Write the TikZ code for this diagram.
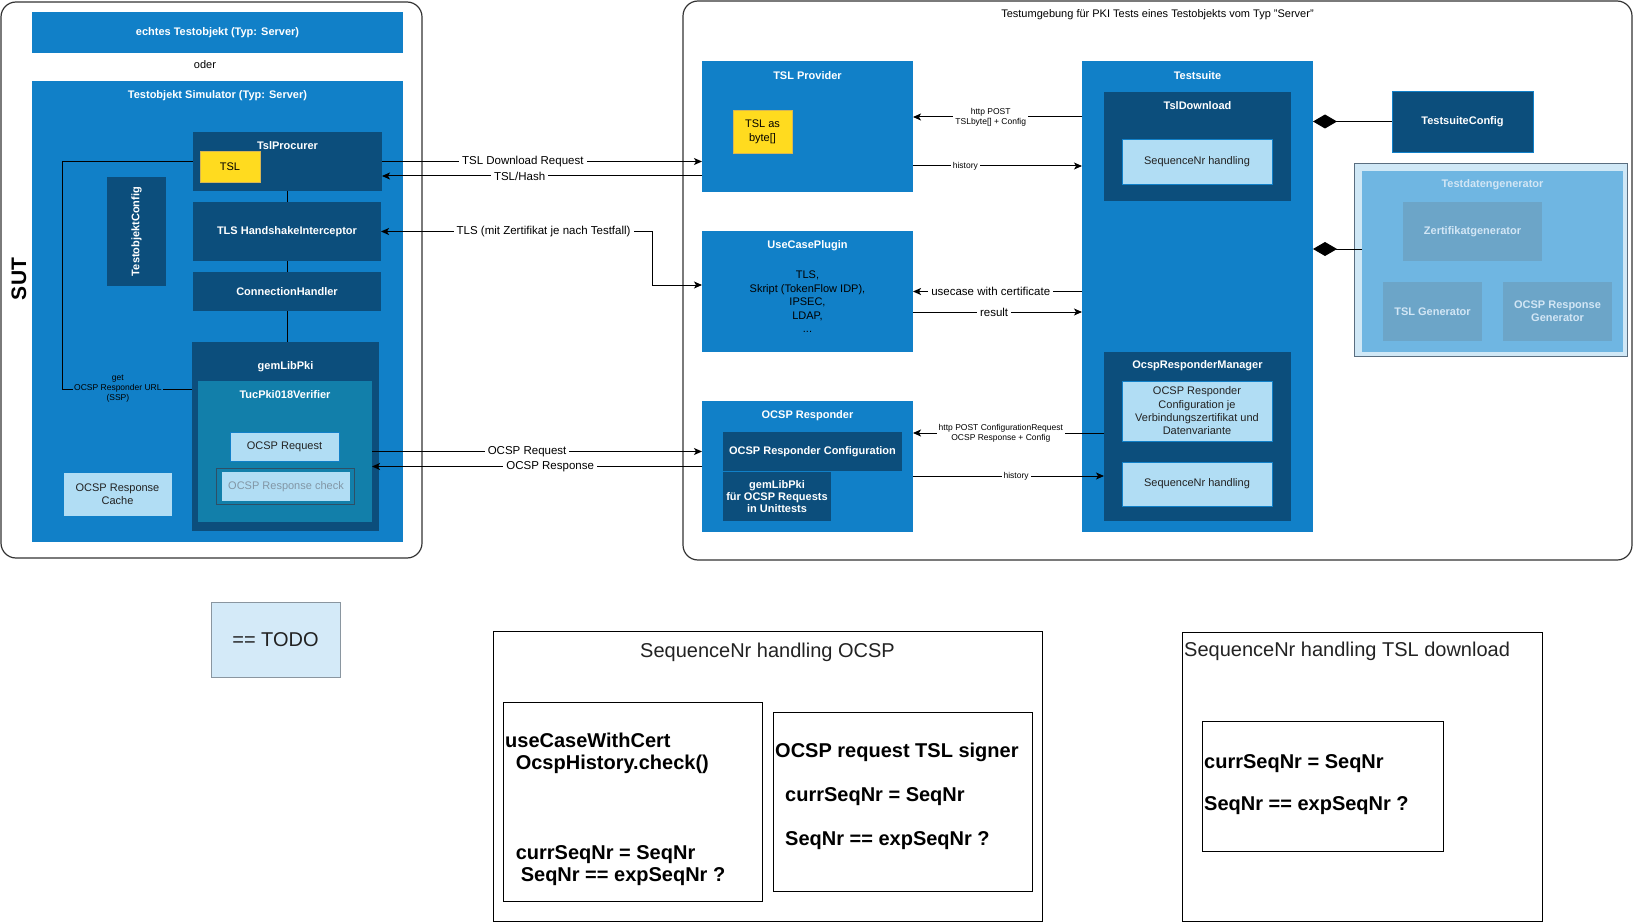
\documentclass[tikz,border=0pt]{standalone}
\usepackage{fontspec}
\setmainfont{Liberation Sans}
\usepackage{tikz}
\usetikzlibrary{arrows.meta}

\definecolor{cBlue}{HTML}{1180C8}
\definecolor{cDark}{HTML}{0C4E7C}
\definecolor{cTeal}{HTML}{127FAA}
\definecolor{cLight}{HTML}{B1DDF4}
\definecolor{cYellow}{HTML}{FFDB1F}
\definecolor{cYellowEdge}{HTML}{D6B656}
\definecolor{cGenOuter}{HTML}{D0E8F6}
\definecolor{cGenEdge}{HTML}{5A6E80}
\definecolor{cGenInner}{HTML}{6FB6E2}
\definecolor{cGenSub}{HTML}{6CA5C8}
\definecolor{cGenText}{HTML}{D2E6F5}
\definecolor{cTodo}{HTML}{D4EAF8}
\definecolor{cTodoEdge}{HTML}{8A96A0}
\definecolor{cFrame}{HTML}{333333}
\definecolor{cText}{HTML}{222222}
\definecolor{cGreyText}{HTML}{8296A5}
\definecolor{cCheckEdge}{HTML}{2E4F66}

\begin{document}
\begin{tikzpicture}[x=1pt,y=-1pt,
  box/.style={rectangle,inner sep=0pt,outer sep=0pt,anchor=north west,align=center},
  bluebox/.style={box,fill=cBlue,text=white,font=\fontsize{11}{13}\selectfont\bfseries},
  darkbox/.style={box,fill=cDark,text=white,font=\fontsize{11}{13}\selectfont\bfseries},
  tealbox/.style={box,fill=cTeal},
  lightbox/.style={box,fill=cLight,draw=cBlue,line width=0.8pt,text=cText,font=\fontsize{11}{13}\selectfont},
  yellowbox/.style={box,fill=cYellow,draw=cYellowEdge,line width=0.8pt,font=\fontsize{11}{14}\selectfont},
  genbox/.style={box,fill=cGenSub,text=cGenText,font=\fontsize{11}{13}\selectfont\bfseries},
  container/.style={box,draw=cFrame,line width=1.2pt,rounded corners=15pt},
  notebox/.style={box,draw=black,line width=1pt},
  boxtitle/.style={inner sep=0pt,text=white,font=\fontsize{11}{13}\selectfont\bfseries},
  lbl/.style={fill=white,inner xsep=3pt,inner ysep=1pt,font=\fontsize{11.5}{13}\selectfont},
  smalllbl/.style={fill=white,inner xsep=2pt,inner ysep=1pt,align=center,font=\fontsize{8.5}{10}\selectfont},
  codetext/.style={anchor=north west,inner sep=0pt,align=left,font=\fontsize{20}{22.3}\selectfont\bfseries},
  bigtext/.style={inner sep=0pt,text=cText,font=\fontsize{20}{24}\selectfont},
  wire/.style={draw=black,line width=1pt},
  flow/.style={wire,-{Stealth[length=8pt,width=7pt,inset=2pt]}},
  flowboth/.style={wire,{Stealth[length=8pt,width=7pt,inset=2pt]}-{Stealth[length=8pt,width=7pt,inset=2pt]}},
  agg/.style={wire,-{Diamond[length=24pt,width=14pt]}}
]

\useasboundingbox (0,0) rectangle (1634,923);

\node[container,minimum width=421pt,minimum height=556pt] (sut) at (1,2) {};
\node[container,minimum width=949pt,minimum height=559pt] (env) at (683,1) {};
\node[rotate=90,inner sep=0pt,font=\fontsize{21}{24}\selectfont\bfseries] (sutT) at (19,279) {SUT};
\node[inner sep=0pt,font=\fontsize{11}{13}\selectfont] (envT) at ([yshift=-14pt]env.north) {Testumgebung für PKI Tests eines Testobjekts vom Typ "Server"};

\node[bluebox,minimum width=371pt,minimum height=41pt] (real) at (32,12) {echtes Testobjekt (Typ: Server)};
\node[inner sep=0pt,font=\fontsize{11}{13}\selectfont] (oder) at (205,65) {oder};
\node[bluebox,minimum width=371pt,minimum height=461pt] (sim) at (32,81) {};
\node[boxtitle] (simT) at ([yshift=-14.5pt]sim.north) {Testobjekt Simulator (Typ: Server)};

\node[darkbox,minimum width=189pt,minimum height=59pt] (proc) at (193,132) {};
\node[boxtitle] (procT) at ([yshift=-13.5pt]proc.north) {TslProcurer};
\node[yellowbox,minimum width=60pt,minimum height=31pt] (tsl) at (200,151) {TSL};
\node[darkbox,minimum width=188pt,minimum height=59pt] (hs) at (193,202) {TLS HandshakeInterceptor};
\node[darkbox,minimum width=59pt,minimum height=109pt] (objcfg) at (107,177) {};
\node[boxtitle,rotate=90] (objcfgT) at (objcfg.center) {TestobjektConfig};
\node[darkbox,minimum width=188pt,minimum height=39pt] (conn) at (193,272) {ConnectionHandler};
\node[darkbox,minimum width=187pt,minimum height=189pt] (gem) at (192,342) {};
\node[boxtitle] (gemT) at ([yshift=-24.5pt]gem.north) {gemLibPki};
\node[tealbox,minimum width=174pt,minimum height=141pt] (tuc) at (198,381) {};
\node[boxtitle] (tucT) at ([yshift=-14pt]tuc.north) {TucPki018Verifier};
\node[lightbox,minimum width=109pt,minimum height=29pt] (oreq) at (230,432) {OCSP Request};
\node[box,fill=cTeal,draw=cCheckEdge,line width=1pt,minimum width=138pt,minimum height=36pt] (chkF) at (216,468) {};
\node[lightbox,draw=none,text=cGreyText,minimum width=128pt,minimum height=29pt] (chk) at (222,472) {OCSP Response check};
\node[lightbox,minimum width=109pt,minimum height=44pt] (cache) at (63,472) {OCSP Response\\Cache};

\node[bluebox,minimum width=211pt,minimum height=131pt] (prov) at (702,61) {};
\node[boxtitle] (provT) at ([yshift=-14.5pt]prov.north) {TSL Provider};
\node[yellowbox,minimum width=59pt,minimum height=43pt] (tslb) at (733,110) {TSL as\\byte[]};
\node[bluebox,minimum width=211pt,minimum height=121pt] (ucp) at (702,231) {};
\node[boxtitle] (ucpT) at ([yshift=-14.5pt]ucp.north) {UseCasePlugin};
\node[inner sep=0pt,align=center,font=\fontsize{11}{13.5}\selectfont] (ucpB) at ([yshift=-10.5pt]ucp.center) {TLS,\\Skript (TokenFlow IDP),\\IPSEC,\\LDAP,\\...};
\node[bluebox,minimum width=211pt,minimum height=131pt] (ocsp) at (702,401) {};
\node[boxtitle] (ocspT) at ([yshift=-14.5pt]ocsp.north) {OCSP Responder};
\node[darkbox,minimum width=179pt,minimum height=39pt] (ocfg) at (723,432) {OCSP Responder Configuration};
\node[darkbox,minimum width=108pt,minimum height=49pt,font=\fontsize{11}{12.3}\selectfont\bfseries] (ogem) at (723,472) {gemLibPki\\für OCSP Requests\\in Unittests};

\node[bluebox,minimum width=231pt,minimum height=471pt] (ts) at (1082,61) {};
\node[boxtitle] (tsT) at ([yshift=-14.5pt]ts.north) {Testsuite};
\node[darkbox,minimum width=187pt,minimum height=109pt] (tsd) at (1104,92) {};
\node[boxtitle] (tsdT) at ([yshift=-13.5pt]tsd.north) {TslDownload};
\node[lightbox,minimum width=150pt,minimum height=45pt] (seq1) at (1122,139) {SequenceNr handling};
\node[darkbox,minimum width=187pt,minimum height=169pt] (orm) at (1104,352) {};
\node[boxtitle] (ormT) at ([yshift=-13.5pt]orm.north) {OcspResponderManager};
\node[lightbox,minimum width=150pt,minimum height=60pt,font=\fontsize{11}{13.3}\selectfont] (orcfg) at (1122,381) {OCSP Responder\\Configuration je\\Verbindungszertifikat und\\Datenvariante};
\node[lightbox,minimum width=150pt,minimum height=44pt] (seq2) at (1122,462) {SequenceNr handling};

\node[darkbox,draw=cBlue,line width=0.8pt,minimum width=141pt,minimum height=61pt] (tscfg) at (1392,91) {TestsuiteConfig};
\node[box,fill=cGenOuter,draw=cGenEdge,line width=1pt,minimum width=273pt,minimum height=192pt] (tdgF) at (1354,164) {};
\node[genbox,fill=cGenInner,minimum width=261pt,minimum height=181pt] (tdg) at (1362,171) {};
\node[boxtitle,text=cGenText] (tdgT) at ([yshift=-14pt]tdg.north) {Testdatengenerator};
\node[genbox,minimum width=139pt,minimum height=59pt] (zgen) at (1403,202) {Zertifikatgenerator};
\node[genbox,minimum width=99pt,minimum height=59pt] (tslgen) at (1383,282) {TSL Generator};
\node[genbox,minimum width=109pt,minimum height=59pt] (orgen) at (1503,282) {OCSP Response\\Generator};

\draw[wire] (proc.south) -- (proc.south |- hs.north);
\draw[wire] (hs.south) -- (hs.south |- conn.north);
\draw[wire] (conn.south) -- (conn.south |- gem.north);
\draw[wire] (proc.west) -- ++(-131,0) -- ++(0,227.5) -- ([yshift=47.5pt]gem.west) node[smalllbl,fill=cBlue,inner xsep=1pt,pos=0.43] (urlT) {get\\OCSP Responder URL\\(SSP)};

\draw[flow] (proc.east) -- ([yshift=-35pt]prov.west) node[lbl,pos=0.44] (dlT) {TSL Download Request};
\draw[flow] ([yshift=-49.5pt]prov.west) -- ([yshift=-14.5pt]proc.east) node[lbl,pos=0.57] (hashT) {TSL/Hash};
\draw[flowboth] (hs.east) -- ++(271,0) node[lbl,pos=0.6] (tlsT) {TLS (mit Zertifikat je nach Testfall)} |- ([yshift=6.5pt]ucp.west);
\draw[flow] (tuc.east) -- (tuc.east -| ocsp.west) node[lbl,pos=0.47] (oreqT) {OCSP Request};
\draw[flow] (ocsp.west) -- (ocsp.west -| tuc.east) node[lbl,pos=0.46] (oresT) {OCSP Response};

\draw[flow] ([yshift=179.5pt]ts.west) -- ([yshift=9.5pt]prov.east) node[smalllbl,pos=0.54] (postT) {http POST\\TSLbyte[] + Config};
\draw[flow] ([yshift=-39.5pt]prov.east) -- ([yshift=130.5pt]ts.west) node[smalllbl,pos=0.31] (histT) {history};
\draw[flow] ([yshift=5pt]ts.west) -- (ucp.east) node[lbl,pos=0.54] (ucT) {usecase with certificate};
\draw[flow] ([yshift=-20.5pt]ucp.east) -- ([yshift=-15.5pt]ts.west) node[lbl,pos=0.48] (resT) {result};
\draw[flow] ([yshift=3.5pt]orm.west) -- ([yshift=33.5pt]ocsp.east) node[smalllbl,pos=0.54] (cfgT) {http POST ConfigurationRequest\\OCSP Response + Config};
\draw[flow] ([yshift=-9.5pt]ocsp.east) -- ([yshift=-39.5pt]orm.west) node[smalllbl,pos=0.54] (hist2T) {history};

\draw[agg] (tscfg.west) -- ([yshift=175pt]ts.east);
\draw[agg] ([yshift=12.5pt]tdg.west) -- ([yshift=47.5pt]ts.east);

\node[box,fill=cTodo,draw=cTodoEdge,line width=1pt,minimum width=129pt,minimum height=75pt,text=cText,font=\fontsize{20}{24}\selectfont] (todo) at (211,602) {== TODO};

\node[notebox,minimum width=549pt,minimum height=290pt] (seqo) at (493,631) {};
\node[bigtext] (seqoT) at ([yshift=-21pt]seqo.north) {SequenceNr handling OCSP};
\node[notebox,minimum width=259pt,minimum height=199pt] (seqoa) at (503,702) {};
\node[codetext] (seqoaT) at ([xshift=2pt,yshift=-31pt]seqoa.north west) {useCaseWithCert\\\hspace*{10.6pt}OcspHistory.check()\\[66.9pt]\hspace*{10.6pt}currSeqNr = SeqNr\\\hspace*{15.6pt}SeqNr == expSeqNr ?};
\node[notebox,minimum width=259pt,minimum height=179pt] (seqob) at (773,712) {};
\node[codetext] (seqobT) at ([xshift=2pt,yshift=-31pt]seqob.north west) {OCSP request TSL signer\\[21.7pt]\hspace*{10pt}currSeqNr = SeqNr\\[21.7pt]\hspace*{10pt}SeqNr == expSeqNr ?};

\node[notebox,minimum width=360pt,minimum height=289.5pt] (seqt) at (1182,632) {};
\node[bigtext,anchor=west] (seqtT) at ([xshift=2pt,yshift=-19pt]seqt.north west) {SequenceNr handling TSL download};
\node[notebox,minimum width=241pt,minimum height=130pt] (seqta) at (1202,721) {};
\node[codetext] (seqtaT) at ([xshift=2pt,yshift=-33pt]seqta.north west) {currSeqNr = SeqNr\\[19.7pt]SeqNr == expSeqNr ?};

\end{tikzpicture}
\end{document}
